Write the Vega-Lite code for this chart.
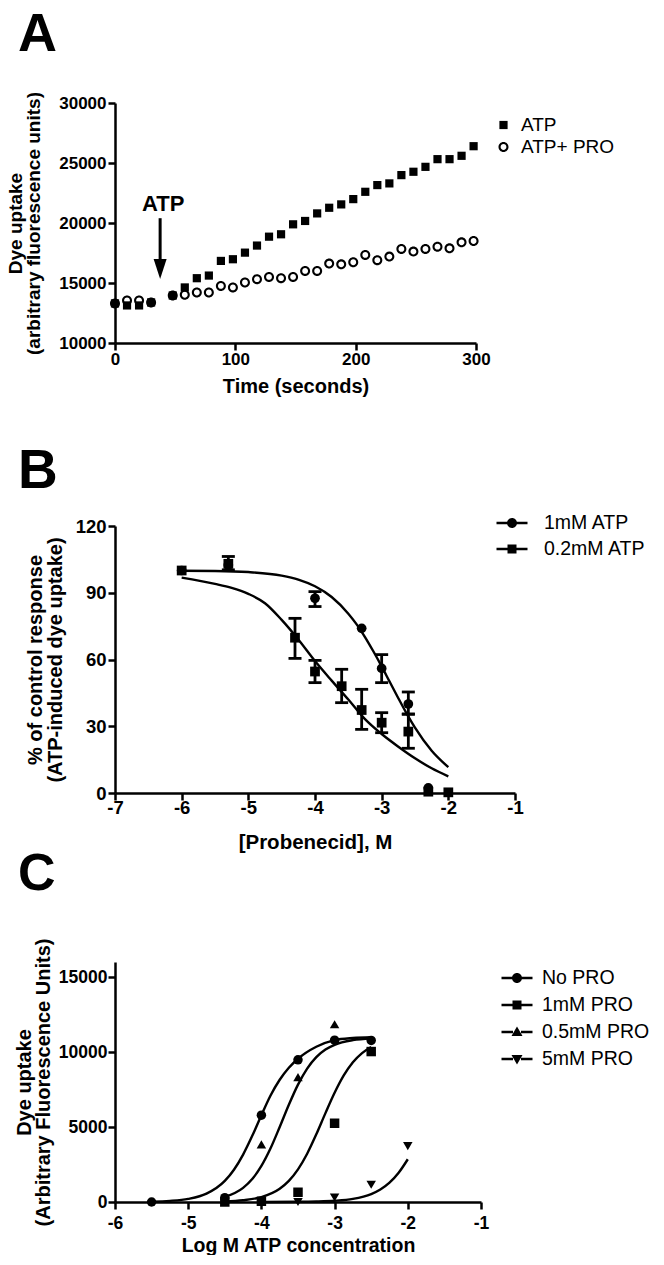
{
  "$schema": "https://vega.github.io/schema/vega-lite/v6.json",
  "background": "white",
  "padding": {"left": 6, "top": 7, "right": 0, "bottom": 0},
  "config": {
    "view": {"stroke": null},
    "font": "Liberation Sans",
    "axis": {"domainColor": "black", "domainWidth": 2.5, "tickColor": "black", "tickWidth": 2.5, "tickSize": 7, "grid": false, "labelColor": "black", "labelFontWeight": "bold", "titleColor": "black", "titleFontWeight": "bold", "labelFont": "Liberation Sans", "titleFont": "Liberation Sans", "labelFlush": false, "labelOverlap": false},
    "legend": {"labelFont": "Liberation Sans", "labelColor": "black", "padding": 0}
  },
  "bounds": "flush",
  "spacing": 183,
  "vconcat": [
    {
      "width": 361, "height": 240,
      "title": {"text": "A", "anchor": "start", "frame": "group", "fontSize": 54, "fontWeight": "bold", "font": "Liberation Sans", "color": "black", "dx": -97, "offset": 29.7},
      "layer": [
        {
          "data": {"values": [
            {"t": 0, "v": 13300, "s": "ATP"}, {"t": 10, "v": 13130, "s": "ATP"}, {"t": 20, "v": 13130, "s": "ATP"}, {"t": 30, "v": 13380, "s": "ATP"},
            {"t": 48, "v": 13960, "s": "ATP"}, {"t": 58, "v": 14630, "s": "ATP"}, {"t": 68, "v": 15400, "s": "ATP"}, {"t": 78, "v": 15620, "s": "ATP"},
            {"t": 88, "v": 16840, "s": "ATP"}, {"t": 98, "v": 16980, "s": "ATP"}, {"t": 108, "v": 17530, "s": "ATP"}, {"t": 118, "v": 18120, "s": "ATP"},
            {"t": 128, "v": 18860, "s": "ATP"}, {"t": 138, "v": 19060, "s": "ATP"}, {"t": 148, "v": 19890, "s": "ATP"}, {"t": 158, "v": 20170, "s": "ATP"},
            {"t": 168, "v": 20800, "s": "ATP"}, {"t": 178, "v": 21270, "s": "ATP"}, {"t": 188, "v": 21550, "s": "ATP"}, {"t": 198, "v": 21990, "s": "ATP"},
            {"t": 208, "v": 22600, "s": "ATP"}, {"t": 218, "v": 23160, "s": "ATP"}, {"t": 228, "v": 23300, "s": "ATP"}, {"t": 238, "v": 23990, "s": "ATP"},
            {"t": 248, "v": 24270, "s": "ATP"}, {"t": 258, "v": 24680, "s": "ATP"}, {"t": 268, "v": 25320, "s": "ATP"}, {"t": 278, "v": 25320, "s": "ATP"},
            {"t": 288, "v": 25600, "s": "ATP"}, {"t": 298, "v": 26400, "s": "ATP"},
            {"t": 0, "v": 13300, "s": "ATP+ PRO"}, {"t": 10, "v": 13550, "s": "ATP+ PRO"}, {"t": 20, "v": 13550, "s": "ATP+ PRO"}, {"t": 30, "v": 13380, "s": "ATP+ PRO"},
            {"t": 48, "v": 13960, "s": "ATP+ PRO"}, {"t": 58, "v": 14020, "s": "ATP+ PRO"}, {"t": 68, "v": 14210, "s": "ATP+ PRO"}, {"t": 78, "v": 14210, "s": "ATP+ PRO"},
            {"t": 88, "v": 14760, "s": "ATP+ PRO"}, {"t": 98, "v": 14630, "s": "ATP+ PRO"}, {"t": 108, "v": 15040, "s": "ATP+ PRO"}, {"t": 118, "v": 15320, "s": "ATP+ PRO"},
            {"t": 128, "v": 15510, "s": "ATP+ PRO"}, {"t": 138, "v": 15400, "s": "ATP+ PRO"}, {"t": 148, "v": 15510, "s": "ATP+ PRO"}, {"t": 158, "v": 16010, "s": "ATP+ PRO"},
            {"t": 168, "v": 16010, "s": "ATP+ PRO"}, {"t": 178, "v": 16620, "s": "ATP+ PRO"}, {"t": 188, "v": 16560, "s": "ATP+ PRO"}, {"t": 198, "v": 16730, "s": "ATP+ PRO"},
            {"t": 208, "v": 17340, "s": "ATP+ PRO"}, {"t": 218, "v": 16900, "s": "ATP+ PRO"}, {"t": 228, "v": 17200, "s": "ATP+ PRO"}, {"t": 238, "v": 17840, "s": "ATP+ PRO"},
            {"t": 248, "v": 17620, "s": "ATP+ PRO"}, {"t": 258, "v": 17840, "s": "ATP+ PRO"}, {"t": 268, "v": 18030, "s": "ATP+ PRO"}, {"t": 278, "v": 17890, "s": "ATP+ PRO"},
            {"t": 288, "v": 18390, "s": "ATP+ PRO"}, {"t": 298, "v": 18500, "s": "ATP+ PRO"}
          ]},
          "mark": {"type": "point", "filled": true, "color": "black", "strokeWidth": 0, "size": 100, "opacity": 1},
          "encoding": {
            "x": {"field": "t", "type": "quantitative", "scale": {"domain": [0, 300]}, "axis": {"values": [0, 100, 200, 300], "title": "Time (seconds)", "labelFontSize": 17, "titleFontSize": 20, "labelPadding": 1, "titlePadding": 9}},
            "y": {"field": "v", "type": "quantitative", "scale": {"domain": [10000, 30000], "zero": false}, "axis": {"values": [10000, 15000, 20000, 25000, 30000], "format": "d", "title": ["Dye uptake", "(arbitrary fluorescence units)"], "labelFontSize": 17, "titleFontSize": 19, "titleLineHeight": 18, "labelPadding": 2, "titlePadding": 15}},
            "shape": {"field": "s", "type": "nominal", "scale": {"domain": ["ATP", "ATP+ PRO"], "range": [
              "M-0.82,-0.82H0.82V0.82H-0.82Z",
              "M-1,0A1,1,0,1,1,1,0A1,1,0,1,1,-1,0ZM-0.58,0A0.58,0.58,0,1,0,0.58,0A0.58,0.58,0,1,0,-0.58,0Z"
            ]}, "legend": {"title": null, "orient": "none", "legendX": 379, "legendY": 12.5, "labelFontSize": 19, "symbolSize": 100, "symbolStrokeWidth": 0, "labelOffset": 8, "rowPadding": 2}}
          }
        },
        {
          "data": {"values": [{"t": 40, "v": 21600, "label": "ATP"}]},
          "mark": {"type": "text", "fontSize": 22, "fontWeight": "bold", "font": "Liberation Sans", "color": "black", "baseline": "middle", "align": "center"},
          "encoding": {"x": {"field": "t", "type": "quantitative"}, "y": {"field": "v", "type": "quantitative"}, "text": {"field": "label"}}
        },
        {
          "data": {"values": [{"t": 37.5, "v": 20400, "v2": 16600}]},
          "mark": {"type": "rule", "strokeWidth": 3, "color": "black"},
          "encoding": {"x": {"field": "t", "type": "quantitative"}, "y": {"field": "v", "type": "quantitative"}, "y2": {"field": "v2"}}
        },
        {
          "data": {"values": [{"t": 37.5, "v": 16170}]},
          "mark": {"type": "point", "shape": "M-0.65,-1L0.65,-1L0,1Z", "size": 400, "filled": true, "color": "black", "opacity": 1},
          "encoding": {"x": {"field": "t", "type": "quantitative"}, "y": {"field": "v", "type": "quantitative"}}
        }
      ]
    },
    {
      "bounds": "flush",
      "spacing": 169,
      "vconcat": [
        {
          "width": 400, "height": 267,
          "title": {"text": "B", "anchor": "start", "frame": "group", "fontSize": 55, "fontWeight": "bold", "font": "Liberation Sans", "color": "black", "dx": -97, "offset": 13.5},
          "layer": [
            {
              "data": {"values": [
                {"x": -6, "y": 99.9, "s": "1mM ATP"}, {"x": -5.5, "y": 99.8, "s": "1mM ATP"}, {"x": -5, "y": 99.3, "s": "1mM ATP"}, {"x": -4.5, "y": 97.7, "s": "1mM ATP"},
                {"x": -4.25, "y": 95.9, "s": "1mM ATP"}, {"x": -4, "y": 92.9, "s": "1mM ATP"}, {"x": -3.75, "y": 88.1, "s": "1mM ATP"}, {"x": -3.5, "y": 80.6, "s": "1mM ATP"},
                {"x": -3.375, "y": 75.8, "s": "1mM ATP"}, {"x": -3.25, "y": 70.1, "s": "1mM ATP"}, {"x": -3.125, "y": 63.7, "s": "1mM ATP"}, {"x": -3, "y": 56.9, "s": "1mM ATP"},
                {"x": -2.875, "y": 49.7, "s": "1mM ATP"}, {"x": -2.75, "y": 42.6, "s": "1mM ATP"}, {"x": -2.625, "y": 35.7, "s": "1mM ATP"}, {"x": -2.5, "y": 29.4, "s": "1mM ATP"},
                {"x": -2.25, "y": 19.0, "s": "1mM ATP"}, {"x": -2, "y": 11.6, "s": "1mM ATP"},
                {"x": -6, "y": 96.8, "s": "0.2mM ATP"}, {"x": -5.5, "y": 94.0, "s": "0.2mM ATP"}, {"x": -5.25, "y": 92.2, "s": "0.2mM ATP"}, {"x": -5, "y": 89.5, "s": "0.2mM ATP"},
                {"x": -4.75, "y": 85.3, "s": "0.2mM ATP"}, {"x": -4.5, "y": 77.8, "s": "0.2mM ATP"}, {"x": -4.25, "y": 69.0, "s": "0.2mM ATP"}, {"x": -4, "y": 59.3, "s": "0.2mM ATP"},
                {"x": -3.75, "y": 50.5, "s": "0.2mM ATP"}, {"x": -3.5, "y": 42.0, "s": "0.2mM ATP"}, {"x": -3.25, "y": 33.2, "s": "0.2mM ATP"}, {"x": -3, "y": 26.5, "s": "0.2mM ATP"},
                {"x": -2.75, "y": 20.8, "s": "0.2mM ATP"}, {"x": -2.5, "y": 15.6, "s": "0.2mM ATP"}, {"x": -2.25, "y": 11.1, "s": "0.2mM ATP"}, {"x": -2, "y": 7.5, "s": "0.2mM ATP"}
              ]},
              "mark": {"type": "line", "color": "black", "strokeWidth": 2.4, "interpolate": "monotone"},
              "encoding": {
                "x": {"field": "x", "type": "quantitative", "scale": {"domain": [-7, -1]}, "axis": {"values": [-7, -6, -5, -4, -3, -2, -1], "labelExpr": "datum.value < 0 ? '-' + abs(datum.value) : datum.label", "title": "[Probenecid], M", "labelFontSize": 18.5, "titleFontSize": 20.5, "labelPadding": -2, "titlePadding": 16}},
                "y": {"field": "y", "type": "quantitative", "scale": {"domain": [0, 120]}, "axis": {"values": [0, 30, 60, 90, 120], "title": ["% of control response", "(ATP-induced dye uptake)"], "labelFontSize": 18.5, "titleFontSize": 20, "titleLineHeight": 20, "labelPadding": 2, "titlePadding": 10}},
                "detail": {"field": "s"}
              }
            },
            {
              "data": {"values": [
                {"x": -5.3, "lo": 100.3, "hi": 106.3}, {"x": -4, "lo": 83.8, "hi": 90.5}, {"x": -3, "lo": 49.6, "hi": 62.2}, {"x": -2.6, "lo": 35.5, "hi": 45.4},
                {"x": -4.3, "lo": 60.5, "hi": 78.5}, {"x": -4, "lo": 49.6, "hi": 59.6}, {"x": -3.6, "lo": 40.6, "hi": 55.6}, {"x": -3.3, "lo": 28.6, "hi": 46.6},
                {"x": -3, "lo": 27.1, "hi": 36.1}, {"x": -2.6, "lo": 20.1, "hi": 35.4}
              ]},
              "layer": [
                {"mark": {"type": "rule", "strokeWidth": 2.8, "color": "black"}, "encoding": {"x": {"field": "x", "type": "quantitative"}, "y": {"field": "lo", "type": "quantitative"}, "y2": {"field": "hi"}}},
                {"mark": {"type": "tick", "orient": "horizontal", "size": 13, "thickness": 2.8, "color": "black", "opacity": 1}, "encoding": {"x": {"field": "x", "type": "quantitative"}, "y": {"field": "lo", "type": "quantitative"}}},
                {"mark": {"type": "tick", "orient": "horizontal", "size": 13, "thickness": 2.8, "color": "black", "opacity": 1}, "encoding": {"x": {"field": "x", "type": "quantitative"}, "y": {"field": "hi", "type": "quantitative"}}}
              ]
            },
            {
              "data": {"values": [
                {"x": -6, "y": 100, "s": "1mM ATP"}, {"x": -5.3, "y": 102.5, "s": "1mM ATP"}, {"x": -4, "y": 87.5, "s": "1mM ATP"}, {"x": -3.3, "y": 74, "s": "1mM ATP"},
                {"x": -3, "y": 56, "s": "1mM ATP"}, {"x": -2.6, "y": 40, "s": "1mM ATP"},
                {"x": -6, "y": 100, "s": "0.2mM ATP"}, {"x": -5.3, "y": 103, "s": "0.2mM ATP"}, {"x": -4.3, "y": 69.8, "s": "0.2mM ATP"}, {"x": -4, "y": 54.6, "s": "0.2mM ATP"},
                {"x": -3.6, "y": 48, "s": "0.2mM ATP"}, {"x": -3.3, "y": 37.3, "s": "0.2mM ATP"}, {"x": -3, "y": 31.6, "s": "0.2mM ATP"}, {"x": -2.6, "y": 27.6, "s": "0.2mM ATP"},
                {"x": -2.3, "y": 0.6, "s": "0.2mM ATP"}, {"x": -2, "y": 0.3, "s": "0.2mM ATP"},
                {"x": -2.3, "y": 2.3, "s": "1mM ATP"}
              ]},
              "mark": {"type": "point", "filled": true, "color": "black", "opacity": 1, "size": 95},
              "encoding": {
                "x": {"field": "x", "type": "quantitative"},
                "y": {"field": "y", "type": "quantitative"},
                "shape": {"field": "s", "type": "nominal", "scale": {"domain": ["1mM ATP", "0.2mM ATP"], "range": ["circle", "square"]}, "legend": null}
              }
            },
            {
              "data": {"values": []},
              "mark": {"type": "point", "filled": true, "color": "black", "opacity": 1},
              "encoding": {
                "shape": {"field": "s", "type": "nominal", "scale": {"domain": ["1mM ATP", "0.2mM ATP"], "range": [
                  "M-1.55,-0.12H-0.4V0.12H-1.55ZM0.4,-0.12H1.55V0.12H0.4ZM-0.5,0A0.5,0.5,0,1,1,0.5,0A0.5,0.5,0,1,1,-0.5,0Z",
                  "M-1.55,-0.12H-0.4V0.12H-1.55ZM0.4,-0.12H1.55V0.12H0.4ZM-0.45,-0.45H0.45V0.45H-0.45Z"
                ]}, "legend": {"title": null, "orient": "none", "legendX": 387, "legendY": -13, "symbolSize": 400, "symbolStrokeWidth": 0, "labelFontSize": 19.5, "labelOffset": 22, "rowPadding": 6}}
              }
            }
          ],
          "resolve": {"scale": {"shape": "independent"}}
        },
        {
          "width": 366, "height": 240,
          "title": {"text": "C", "anchor": "start", "frame": "group", "fontSize": 52, "fontWeight": "bold", "font": "Liberation Sans", "color": "black", "dx": -97, "offset": 37},
          "layer": [
            {
              "data": {"values": [
                {"x": -5.5, "y": 28, "s": "No PRO"}, {"x": -5.25, "y": 77, "s": "No PRO"}, {"x": -5, "y": 208, "s": "No PRO"}, {"x": -4.75, "y": 555, "s": "No PRO"},
                {"x": -4.5, "y": 1405, "s": "No PRO"}, {"x": -4.375, "y": 2152, "s": "No PRO"}, {"x": -4.25, "y": 3163, "s": "No PRO"}, {"x": -4.125, "y": 4411, "s": "No PRO"},
                {"x": -4, "y": 5789, "s": "No PRO"}, {"x": -3.875, "y": 7100, "s": "No PRO"}, {"x": -3.75, "y": 8150, "s": "No PRO"}, {"x": -3.625, "y": 8950, "s": "No PRO"},
                {"x": -3.5, "y": 9550, "s": "No PRO"}, {"x": -3.25, "y": 10350, "s": "No PRO"}, {"x": -3, "y": 10790, "s": "No PRO"}, {"x": -2.75, "y": 10930, "s": "No PRO"},
                {"x": -2.5, "y": 10980, "s": "No PRO"},
                {"x": -4.5, "y": 335, "s": "0.5mM PRO"}, {"x": -4.25, "y": 943, "s": "0.5mM PRO"}, {"x": -4.125, "y": 1531, "s": "0.5mM PRO"}, {"x": -4, "y": 2403, "s": "0.5mM PRO"},
                {"x": -3.875, "y": 3578, "s": "0.5mM PRO"}, {"x": -3.75, "y": 5000, "s": "0.5mM PRO"}, {"x": -3.625, "y": 6483, "s": "0.5mM PRO"}, {"x": -3.5, "y": 7827, "s": "0.5mM PRO"},
                {"x": -3.375, "y": 8897, "s": "0.5mM PRO"}, {"x": -3.25, "y": 9659, "s": "0.5mM PRO"}, {"x": -3.125, "y": 10165, "s": "0.5mM PRO"}, {"x": -3, "y": 10480, "s": "0.5mM PRO"},
                {"x": -2.75, "y": 10788, "s": "0.5mM PRO"}, {"x": -2.5, "y": 10895, "s": "0.5mM PRO"},
                {"x": -4.5, "y": 43, "s": "1mM PRO"}, {"x": -4.25, "y": 120, "s": "1mM PRO"}, {"x": -4, "y": 331, "s": "1mM PRO"}, {"x": -3.75, "y": 885, "s": "1mM PRO"},
                {"x": -3.625, "y": 1408, "s": "1mM PRO"}, {"x": -3.5, "y": 2176, "s": "1mM PRO"}, {"x": -3.375, "y": 3220, "s": "1mM PRO"}, {"x": -3.25, "y": 4510, "s": "1mM PRO"},
                {"x": -3.125, "y": 5924, "s": "1mM PRO"}, {"x": -3, "y": 7280, "s": "1mM PRO"}, {"x": -2.875, "y": 8436, "s": "1mM PRO"}, {"x": -2.75, "y": 9314, "s": "1mM PRO"},
                {"x": -2.625, "y": 9928, "s": "1mM PRO"}, {"x": -2.5, "y": 10333, "s": "1mM PRO"},
                {"x": -4, "y": 2, "s": "5mM PRO"}, {"x": -3.5, "y": 12, "s": "5mM PRO"}, {"x": -3.25, "y": 31, "s": "5mM PRO"}, {"x": -3, "y": 80, "s": "5mM PRO"},
                {"x": -2.75, "y": 207, "s": "5mM PRO"}, {"x": -2.5, "y": 530, "s": "5mM PRO"}, {"x": -2.375, "y": 833, "s": "5mM PRO"}, {"x": -2.25, "y": 1289, "s": "5mM PRO"},
                {"x": -2.125, "y": 1949, "s": "5mM PRO"}, {"x": -2, "y": 2850, "s": "5mM PRO"}
              ]},
              "mark": {"type": "line", "color": "black", "strokeWidth": 2.4, "interpolate": "monotone"},
              "encoding": {
                "x": {"field": "x", "type": "quantitative", "scale": {"domain": [-6, -1]}, "axis": {"values": [-6, -5, -4, -3, -2, -1], "labelExpr": "datum.value < 0 ? '-' + abs(datum.value) : datum.label", "title": "Log M ATP concentration", "labelFontSize": 17.5, "titleFontSize": 19.5, "labelPadding": 5, "titlePadding": 5}},
                "y": {"field": "y", "type": "quantitative", "scale": {"domain": [0, 15000]}, "axis": {"values": [0, 5000, 10000, 15000], "format": "d", "title": ["Dye uptake", "(Arbitrary Fluorescence Units)"], "labelFontSize": 17.5, "titleFontSize": 20, "titleLineHeight": 19, "labelPadding": 1, "titlePadding": 5}},
                "detail": {"field": "s"}
              }
            },
            {
              "data": {"values": [
                {"x": -5.5, "y": 0, "s": "No PRO"}, {"x": -4.5, "y": 290, "s": "No PRO"}, {"x": -4, "y": 5790, "s": "No PRO"}, {"x": -3.5, "y": 9480, "s": "No PRO"},
                {"x": -3, "y": 10790, "s": "No PRO"}, {"x": -2.5, "y": 10770, "s": "No PRO"},
                {"x": -4.5, "y": 0, "s": "1mM PRO"}, {"x": -4, "y": 50, "s": "1mM PRO"}, {"x": -3.5, "y": 650, "s": "1mM PRO"}, {"x": -3, "y": 5250, "s": "1mM PRO"}, {"x": -2.5, "y": 10030, "s": "1mM PRO"},
                {"x": -4.5, "y": 150, "s": "0.5mM PRO"}, {"x": -4, "y": 3840, "s": "0.5mM PRO"}, {"x": -3.5, "y": 8320, "s": "0.5mM PRO"}, {"x": -3, "y": 11850, "s": "0.5mM PRO"},
                {"x": -4, "y": 0, "s": "5mM PRO"}, {"x": -3.5, "y": 0, "s": "5mM PRO"}, {"x": -3, "y": 300, "s": "5mM PRO"}, {"x": -2.5, "y": 1150, "s": "5mM PRO"}, {"x": -2, "y": 3720, "s": "5mM PRO"}
              ]},
              "mark": {"type": "point", "filled": true, "color": "black", "opacity": 1, "size": 90},
              "encoding": {
                "x": {"field": "x", "type": "quantitative"},
                "y": {"field": "y", "type": "quantitative"},
                "shape": {"field": "s", "type": "nominal", "scale": {"domain": ["No PRO", "1mM PRO", "0.5mM PRO", "5mM PRO"], "range": ["circle", "square", "triangle-up", "triangle-down"]}, "legend": null}
              }
            },
            {
              "data": {"values": []},
              "mark": {"type": "point", "filled": true, "color": "black", "opacity": 1},
              "encoding": {
                "shape": {"field": "s", "type": "nominal", "scale": {"domain": ["No PRO", "1mM PRO", "0.5mM PRO", "5mM PRO"], "range": [
                  "M-1.55,-0.12H-0.4V0.12H-1.55ZM0.4,-0.12H1.55V0.12H0.4ZM-0.5,0A0.5,0.5,0,1,1,0.5,0A0.5,0.5,0,1,1,-0.5,0Z",
                  "M-1.55,-0.12H-0.4V0.12H-1.55ZM0.4,-0.12H1.55V0.12H0.4ZM-0.45,-0.45H0.45V0.45H-0.45Z",
                  "M-1.55,-0.12H-0.4V0.12H-1.55ZM0.4,-0.12H1.55V0.12H0.4ZM0,-0.55L0.55,0.4H-0.55Z",
                  "M-1.55,-0.12H-0.4V0.12H-1.55ZM0.4,-0.12H1.55V0.12H0.4ZM0,0.55L-0.55,-0.4H0.55Z"
                ]}, "legend": {"title": null, "orient": "none", "legendX": 392, "legendY": 6, "symbolSize": 400, "symbolStrokeWidth": 0, "labelFontSize": 19.5, "labelOffset": 15, "rowPadding": 7}}
              }
            }
          ],
          "resolve": {"scale": {"shape": "independent"}}
        }
      ]
    }
  ]
}
